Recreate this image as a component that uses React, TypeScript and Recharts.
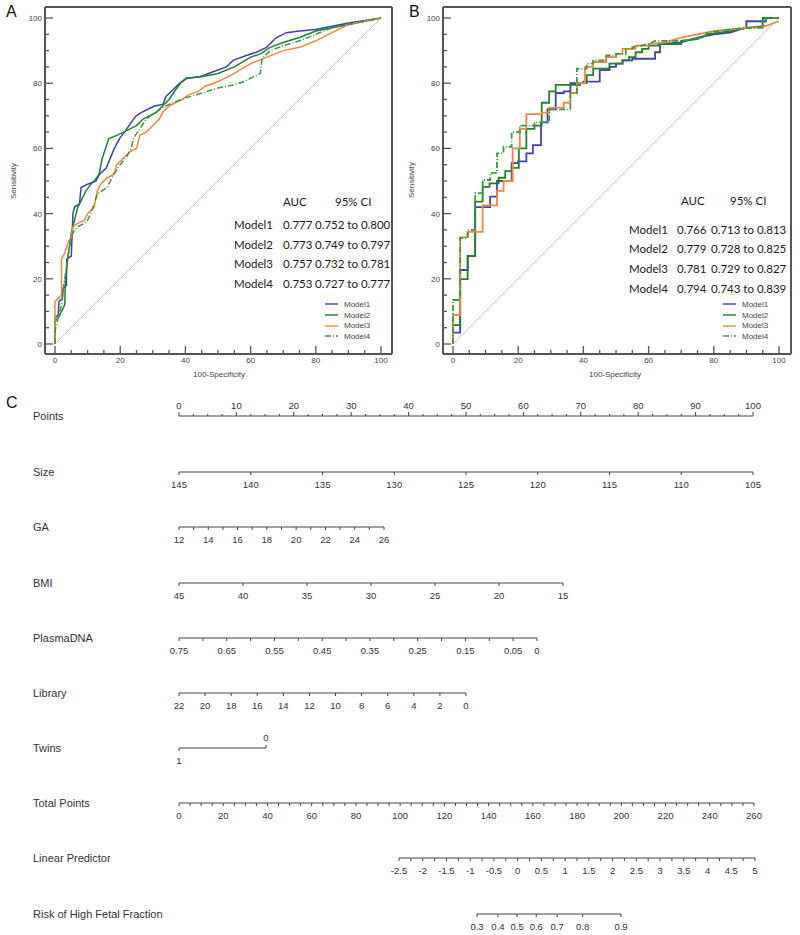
import React from "react";
import { LineChart, Line, XAxis, YAxis, Legend } from "recharts";

// ---- ROC data (100-Specificity, Sensitivity) ----
const modelNames = ["Model1", "Model2", "Model3", "Model4"];
const modelColors = ["#4141ae", "#22802a", "#f28646", "#3a9a3e"];
const modelDash: (string | undefined)[] = [undefined, undefined, undefined, "6 2 1 2"];

const rocA1 = [[0,0],[0,8],[1,9],[1.2,13],[2.3,14],[2.5,17],[3.5,18],[3.6,26],[5,27],[5.5,40],[6,42],[7.5,43],[8,48],[10,49],[12.6,50],[13.6,52],[15.7,54],[18.2,60],[19.8,63],[21.3,65],[23.4,68],[24.9,70],[26.4,71],[28.5,72],[30.5,73],[33.1,73.5],[34.1,76],[36.2,78],[38.2,80],[40.3,81.5],[44.4,82],[48.5,83.5],[52.6,85],[54.6,87],[58.7,88.5],[61.8,89.5],[64.9,91],[67.9,94],[71,95.5],[75,96],[80,96.5],[85,97.5],[90,98.5],[95.6,99.3],[100,100]];
const rocA2 = [[0,0],[0,7],[1,8],[2,10],[3,12],[3.2,20],[4,27],[5,34],[6,38],[7,42],[8,44],[9.5,47],[11,49],[12,50],[13.5,52],[14.5,57],[15.5,60],[16.5,63],[19,64],[21,65],[23,66],[25,67],[27,69],[29,70],[31,71],[33,73],[35,75],[37,78],[38.5,80],[40.3,81.5],[45,82],[50,83],[55,85],[60,88],[63,89],[66,91],[70,92.5],[75,94],[80,96],[85,97],[90,98],[95,99],[100,100]];
const rocA3 = [[0,0],[0,13],[1,14],[2,15],[2,26],[3,28],[4,31],[5,33],[5.5,36],[7,37],[9,38],[10,40],[12,42],[13,47],[14,49],[16,51],[18,52],[19,55],[21,57],[23,59],[25,60],[26,64],[28,65],[30,67],[32,69],[33,71],[35,73],[37,74],[39,75],[41,76.5],[44,77.5],[46,79],[50,80.5],[55,83],[60,86],[65,88],[70,90],[75,91],[80,93],[85,95.5],[90,98],[100,100]];
const rocA4 = [[0,0],[0,4],[1,8],[2,12],[2.5,17],[3,20],[4,27],[5,33],[6,35],[7,36],[9,37],[10,38],[11,40],[12,43],[13,46],[16,48],[17,50],[18,52],[20,55],[22,57.5],[23.4,60],[24,63],[26,66],[28,69],[30,70.5],[33,72.5],[36,74],[40,75.5],[45,77],[50,78.5],[55,79.5],[58,80.5],[61,82],[63,83],[63.5,87.5],[66,90],[70,91.5],[75,93],[80,95],[85,97],[90,98],[100,100]];

const rocB1 = [[0,0],[0,3.5],[2.2,3.5],[2.2,22.7],[4.5,22.7],[4.5,27],[6.8,27],[6.8,42],[11.4,42],[11.4,45.2],[13.5,45.2],[13.5,50],[18,50],[18,55.5],[20,55.5],[20,56],[22.5,56],[22.5,58.5],[24.5,58.5],[24.5,61],[27,61],[27,68],[29,68],[29,72],[31.5,72],[31.5,77],[34,77],[34,77.5],[36,77.5],[36,80],[40,80],[40,80.5],[45,80.5],[45,84],[48,84],[48,85],[50,85],[50,86],[52,86],[52,87],[55,87],[55,87.5],[62,87.5],[62,89.5],[63.5,89.5],[63.5,92],[70,92.5],[75,94],[80,95],[85,95.5],[88,96.5],[90,97],[90,99],[96,99],[96,100],[100,100]];
const rocB2 = [[0,0],[0,5.8],[2.2,5.8],[2.2,19.9],[4.5,19.9],[4.5,27],[6.8,27],[6.8,43.7],[9.1,43.7],[9.1,48.2],[11.2,48.2],[11.2,49.3],[14,49.3],[14,51],[16,51],[16,53],[18,53],[18,54],[20.2,54],[20.2,60],[22.5,60],[22.5,66],[25,66],[25,67],[27.2,67],[27.2,74],[29.5,74],[29.5,77.5],[31.5,77.5],[31.5,79.5],[39,79.5],[39,80],[41,80],[41,82.5],[43,82.5],[43,84.5],[48,84.5],[48,86],[52,86],[52,87],[54,87],[54,88],[56,88],[56,89.5],[58,89.5],[58,90.5],[60,90.5],[60,91.5],[63,91.5],[63,92],[70,92],[70,93],[75,93.5],[78,95],[85,96],[90,97],[95,97.5],[95,100],[100,100]];
const rocB3 = [[0,0],[0,8.9],[2.2,8.9],[2.2,32.7],[4.5,32.7],[4.5,34.4],[9.1,34.4],[9.1,42.5],[13.5,42.5],[13.5,47],[15.5,47],[15.5,50],[18.3,50],[18.3,60],[20.5,60],[20.5,66],[22.5,66],[22.5,70.5],[27.3,70.5],[27.3,71],[29.5,71],[29.5,72.5],[34,72.5],[34,74],[36,74],[36,77],[38,77],[38,80],[40.5,80],[40.5,85],[43,85],[43,86.5],[47,86.5],[47,88],[50,88],[50,89],[52,89],[52,90.5],[56,90.5],[56,91.5],[60,91.5],[60,92],[65,92.5],[70,94],[75,95],[80,96],[85,96.5],[90,97],[95,97.2],[100,99]];
const rocB4 = [[0,0],[0,13.5],[2.2,13.5],[2.2,32.5],[4.5,32.5],[4.5,35],[6.8,35],[6.8,46.3],[9.1,46.3],[9.1,50.3],[11.4,50.3],[11.4,52.5],[13.5,52.5],[13.5,58.5],[15.5,58.5],[15.5,60.5],[18,60.5],[18,65],[20.5,65],[20.5,67],[25,67],[25,68],[29.5,68],[29.5,72],[36,72],[36,77],[38,77],[38,84.5],[41,84.5],[41,86],[43,86],[43,87],[47,87],[47,88.5],[50,88.5],[50,89],[53,89],[53,90.5],[55,90.5],[55,91],[60,92],[62,93],[70,93],[77,94],[78,95.5],[85,96.5],[90,97],[95,97],[96,100],[100,100]];

const diagonal = [[0,0],[100,100]];

const aucA = ["0.777", "0.773", "0.757", "0.753"];
const ciA = ["0.752 to 0.800", "0.749 to 0.797", "0.732 to 0.781", "0.727 to 0.777"];
const aucB = ["0.766", "0.779", "0.781", "0.794"];
const ciB = ["0.713 to 0.813", "0.728 to 0.825", "0.729 to 0.827", "0.743 to 0.839"];

const rocTickLabels = [0, 20, 40, 60, 80, 100];
const rocTickStep = 5;

// ---- nomogram scales ----
const pointsLabels = [0, 10, 20, 30, 40, 50, 60, 70, 80, 90, 100];
const sizeLabels = [145, 140, 135, 130, 125, 120, 115, 110, 105];
const gaLabels = [12, 14, 16, 18, 20, 22, 24, 26];
const bmiLabels = [45, 40, 35, 30, 25, 20, 15];
const plasmaLabels = [0.75, 0.65, 0.55, 0.45, 0.35, 0.25, 0.15, 0.05, 0];
const libraryLabels = [22, 20, 18, 16, 14, 12, 10, 8, 6, 4, 2, 0];
const twinsLabels = [1, 0];
const totalLabels = [0, 20, 40, 60, 80, 100, 120, 140, 160, 180, 200, 220, 240, 260];
const lpLabels = [-2.5, -2, -1.5, -1, -0.5, 0, 0.5, 1, 1.5, 2, 2.5, 3, 3.5, 4, 4.5, 5];
const riskLabels = [0.3, 0.4, 0.5, 0.6, 0.7, 0.8, 0.9];

const FONT = "'Liberation Sans', Arial, Helvetica, sans-serif";
const logit = (p: number) => Math.log(p / (1 - p));

function stepTicks(a: number, b: number, step: number): number[] {
  const lo = Math.min(a, b);
  const hi = Math.max(a, b);
  const n = Math.round((hi - lo) / step);
  return Array.from({ length: n + 1 }, (_, i) => Math.round((lo + i * step) * 1e6) / 1e6);
}
const toPts = (arr: number[][]) => arr.map(([x, y]) => ({ x, y }));
const near = (list: number[], v: number) => list.some((l) => Math.abs(l - v) < 1e-6);

// ROC axis ticks: drawn inside the frame, labels outside
const RocXTick = (props: any) => {
  const { x, y, payload } = props;
  const major = near(rocTickLabels, payload.value);
  return (
    <g>
      <line x1={x} x2={x} y1={y} y2={y - (major ? 8 : 4)} stroke="#555" strokeWidth={1.3} />
      {major && (
        <text x={x} y={y + 9} textAnchor="middle" fontSize={8} fill="#444" fontFamily={FONT}>
          {payload.value}
        </text>
      )}
    </g>
  );
};
const RocYTick = (props: any) => {
  const { x, y, payload } = props;
  const major = near(rocTickLabels, payload.value);
  return (
    <g>
      <line x1={x} x2={x + (major ? 8 : 4)} y1={y} y2={y} stroke="#555" strokeWidth={1.3} />
      {major && (
        <text x={x - 3} y={y + 3} textAnchor="end" fontSize={8} fill="#444" fontFamily={FONT}>
          {payload.value}
        </text>
      )}
    </g>
  );
};

const RocLegend = () => (
  <div style={{ fontFamily: FONT, fontSize: 8, color: "#444" }}>
    {modelNames.map((n, i) => (
      <div key={n} style={{ display: "flex", alignItems: "center", height: 10.7 }}>
        <svg width={14} height={6}>
          <line x1={0} x2={13} y1={3} y2={3} stroke={modelColors[i]} strokeWidth={1.4} strokeDasharray={modelDash[i]} />
        </svg>
        <span style={{ marginLeft: 5 }}>{n}</span>
      </div>
    ))}
  </div>
);

function RocPanel({ left, axisLeft, axisRight, padL, padR, series, legendLeft, width }: {
  left: number; axisLeft: number; axisRight: number; padL: number; padR: number;
  series: number[][][]; legendLeft: number; width: number;
}) {
  const ticks = stepTicks(0, 100, rocTickStep);
  const frame = { stroke: "#555", strokeWidth: 2 };
  // axes are 1px wide/high, so the margins sit 1px short of the frame lines
  return (
    <div style={{ position: "absolute", left, top: 0 }}>
      <LineChart width={400} height={385} margin={{ top: 6, right: 400 - axisRight - 1, bottom: 30, left: axisLeft - 1 }}>
        <XAxis xAxisId="x" type="number" dataKey="x" domain={[0, 100]} ticks={ticks} interval={0}
          height={1} tickSize={0} tickMargin={0} tickLine={false} axisLine={frame}
          padding={{ left: padL, right: padR }} tick={RocXTick} />
        <YAxis yAxisId="y" type="number" domain={[0, 100]} ticks={ticks} interval={0}
          width={1} tickSize={0} tickMargin={0} tickLine={false} axisLine={frame}
          padding={{ top: 11, bottom: 10 }} tick={RocYTick} />
        <XAxis xAxisId="top" orientation="top" type="number" domain={[0, 100]} height={1} tick={false} tickLine={false} axisLine={frame} />
        <YAxis yAxisId="right" orientation="right" type="number" domain={[0, 100]} width={1} tick={false} tickLine={false} axisLine={frame} />
        <Line xAxisId="x" yAxisId="y" data={toPts(diagonal)} dataKey="y" stroke="#e9bcbc" strokeWidth={1}
          dot={false} isAnimationActive={false} legendType="none" />
        {series.map((s, i) => (
          <Line key={modelNames[i]} name={modelNames[i]} xAxisId="x" yAxisId="y" data={toPts(s)} dataKey="y"
            type="linear" stroke={modelColors[i]} strokeWidth={width} strokeDasharray={modelDash[i]}
            dot={false} isAnimationActive={false} />
        ))}
        <Legend layout="vertical" align="center" verticalAlign="middle" content={RocLegend}
          wrapperStyle={{ left: legendLeft, top: 299, width: 70 }} />
      </LineChart>
    </div>
  );
}

function AucTable({ xName, xAuc, xCi, xHeadAuc, xHeadCi, yHead, rowYs, auc, ci }: {
  xName: number; xAuc: number; xCi: number; xHeadAuc: number; xHeadCi: number;
  yHead: number; rowYs: number[]; auc: string[]; ci: string[];
}) {
  const st = (x: number, y: number): React.CSSProperties => ({
    position: "absolute", left: x, top: y - 8, lineHeight: "16px", fontSize: 11.5,
    fontFamily: "Lato, 'Open Sans', sans-serif", color: "#1a1a1a", whiteSpace: "nowrap",
  });
  return (
    <>
      <div style={st(xHeadAuc, yHead)}>AUC</div>
      <div style={st(xHeadCi, yHead)}>95% CI</div>
      {modelNames.map((n, i) => (
        <React.Fragment key={n}>
          <div style={st(xName, rowYs[i])}>{n}</div>
          <div style={st(xAuc, rowYs[i])}>{auc[i]}</div>
          <div style={st(xCi, rowYs[i])}>{ci[i]}</div>
        </React.Fragment>
      ))}
    </>
  );
}

// ---- nomogram rows ----
type Row = {
  title: string; y: number; x0: number; x1: number; domain: [number, number]; reversed?: boolean;
  labels: number[]; ticks: number[]; up?: number[]; major?: number; minor?: number; fmt?: (v: number) => string;
};

const rows: Row[] = [
  { title: "Points", y: 416, x0: 179, x1: 753, domain: [0, 100], labels: pointsLabels, ticks: stepTicks(0, 100, 2.5), up: stepTicks(0, 100, 2.5), major: 4, minor: 2 },
  { title: "Size", y: 472, x0: 179, x1: 753, domain: [105, 145], reversed: true, labels: sizeLabels, ticks: stepTicks(105, 145, 5) },
  { title: "GA", y: 527, x0: 179, x1: 384, domain: [12, 26], labels: gaLabels, ticks: stepTicks(12, 26, 1) },
  { title: "BMI", y: 583, x0: 179, x1: 563, domain: [15, 45], reversed: true, labels: bmiLabels, ticks: stepTicks(15, 45, 5) },
  { title: "PlasmaDNA", y: 638, x0: 179, x1: 537, domain: [0, 0.75], reversed: true, labels: plasmaLabels, ticks: stepTicks(0, 0.75, 0.05) },
  { title: "Library", y: 693, x0: 179, x1: 466, domain: [0, 22], reversed: true, labels: libraryLabels, ticks: stepTicks(0, 22, 2) },
  { title: "Twins", y: 748, x0: 179, x1: 266, domain: [0, 1], reversed: true, labels: twinsLabels, ticks: twinsLabels, up: [0] },
  { title: "Total Points", y: 803, x0: 179, x1: 754, domain: [0, 260], labels: totalLabels, ticks: stepTicks(0, 260, 5) },
  { title: "Linear Predictor", y: 858, x0: 399, x1: 755, domain: [-2.5, 5], labels: lpLabels, ticks: stepTicks(-2.5, 5, 0.25) },
  { title: "Risk of High Fetal Fraction", y: 914, x0: 477, x1: 621, domain: [logit(0.3), logit(0.9)],
    labels: riskLabels.map(logit), ticks: riskLabels.map(logit),
    fmt: (v) => String(Math.round(10 / (1 + Math.exp(-v))) / 10) },
];

function NomoRow({ row }: { row: Row }) {
  const H = 40;
  const renderTick = (props: any) => {
    const { x, y, payload } = props;
    const v = payload.value;
    const up = row.up ? near(row.up, v) : false;
    const isLabel = near(row.labels, v);
    const len = isLabel ? row.major ?? 3 : row.minor ?? 3;
    const dir = up ? -1 : 1;
    return (
      <g>
        <line x1={x} x2={x} y1={y} y2={y + dir * len} stroke="#444" strokeWidth={1} />
        {isLabel && (
          <text x={x} y={up ? y - 7 : y + 15.5} textAnchor="middle" fontSize={9.5} fill="#333" fontFamily={FONT}>
            {row.fmt ? row.fmt(v) : String(v)}
          </text>
        )}
      </g>
    );
  };
  // axis line lands 19px below the top of the little chart
  return (
    <>
      <div style={{ position: "absolute", left: 33, top: row.y - 8, lineHeight: "16px", fontSize: 11, fontFamily: FONT, color: "#333", whiteSpace: "nowrap" }}>
        {row.title}
      </div>
      <div style={{ position: "absolute", left: 0, top: row.y - 19 }}>
        <LineChart width={800} height={H} margin={{ top: 10, bottom: 20, left: row.x0, right: 800 - row.x1 }}
          data={row.ticks.map((v) => ({ v }))}>
          <XAxis type="number" dataKey="v" domain={row.domain} allowDataOverflow ticks={row.ticks} interval={0}
            reversed={row.reversed} height={1} tickSize={0} tickMargin={0} tickLine={false}
            axisLine={{ stroke: "#444", strokeWidth: 1 }} tick={renderTick} />
          <YAxis hide domain={[0, 1]} />
        </LineChart>
      </div>
    </>
  );
}

const letterStyle = (x: number, y: number): React.CSSProperties => ({
  position: "absolute", left: x, top: y - 10, lineHeight: "20px", fontSize: 16, fontFamily: FONT, color: "#111",
});
const smallStyle = (x: number, y: number): React.CSSProperties => ({
  position: "absolute", left: x, top: y - 6, lineHeight: "12px", fontSize: 8, fontFamily: FONT, color: "#444",
  whiteSpace: "nowrap", transform: "translateX(-50%)", fontVariantLigatures: "none",
});

export default function App() {
  return (
    <div style={{ position: "absolute", left: 0, top: 0, width: 800, height: 935, background: "#fff", overflow: "hidden" }}>
      <RocPanel left={0} axisLeft={45} axisRight={392} padL={10} padR={11} series={[rocA1, rocA2, rocA3, rocA4]} legendLeft={325} width={1.5} />
      <RocPanel left={400} axisLeft={43} axisRight={391} padL={10} padR={12} series={[rocB1, rocB2, rocB3, rocB4]} legendLeft={323} width={1.8} />

      <div style={letterStyle(6, 12)}>A</div>
      <div style={letterStyle(409, 12)}>B</div>
      <div style={letterStyle(6, 403)}>C</div>

      <div style={{ ...smallStyle(14, 181), transform: "translateX(-50%) rotate(-90deg)" }}>Sensitivity</div>
      <div style={{ ...smallStyle(412, 180), transform: "translateX(-50%) rotate(-90deg)" }}>Sensitivity</div>
      <div style={smallStyle(219, 375)}>100-Specificity</div>
      <div style={smallStyle(615, 375)}>100-Specificity</div>

      <AucTable xName={234} xAuc={283} xCi={315} xHeadAuc={283} xHeadCi={335} yHead={202} rowYs={[225, 245, 264, 284]} auc={aucA} ci={ciA} />
      <AucTable xName={629} xAuc={677} xCi={711} xHeadAuc={681} xHeadCi={730} yHead={201} rowYs={[230, 249, 269, 289]} auc={aucB} ci={ciB} />

      {rows.map((r) => (
        <NomoRow key={r.title} row={r} />
      ))}
    </div>
  );
}
